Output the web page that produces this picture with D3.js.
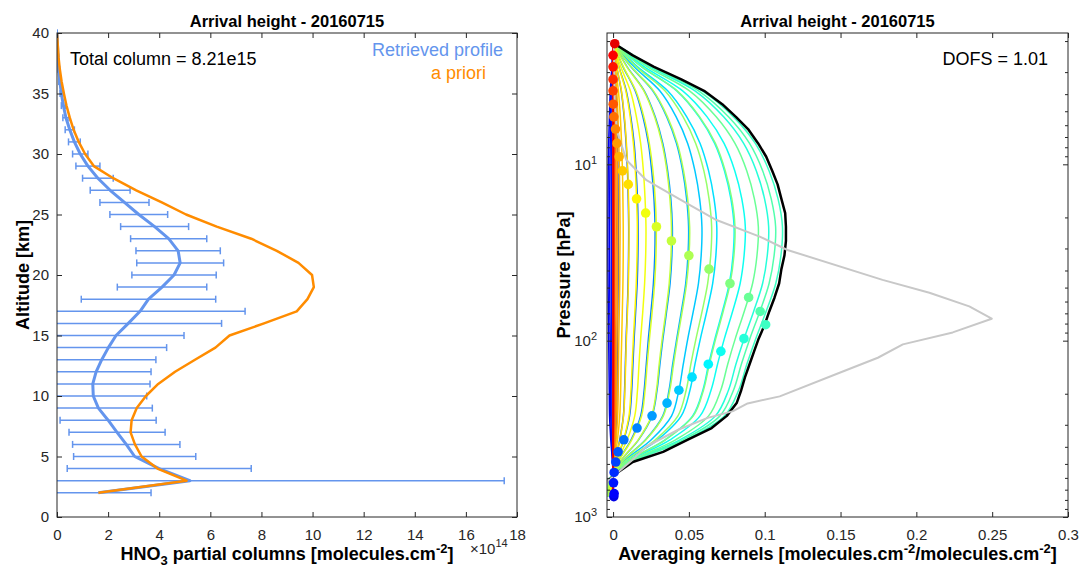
<!DOCTYPE html>
<html>
<head>
<meta charset="utf-8">
<script src="https://cdn.jsdelivr.net/npm/d3@7"></script>
<style>
  html, body { margin: 0; padding: 0; background: #fff; }
  svg { display: block; font-family: "Liberation Sans", Arial, Helvetica, sans-serif; }
</style>
</head>
<body>
<svg id="chart" width="1082" height="574"></svg>
<script>
// ---------------- Left panel: HNO3 partial column profile ----------------
const altitudes = [2, 3, 4, 5, 6, 7, 8, 9, 10, 11, 12, 13, 14, 15, 16, 17, 18, 19, 20, 21,
                   22, 23, 24, 25, 26, 27, 28, 29, 30, 31, 32, 33, 34, 35, 36, 37, 38, 39, 40];
// partial columns, units of 1e14 molecules/cm2
const retrieved = [1.62, 5.2, 4.0, 3.04, 2.71, 2.35, 2.0, 1.62, 1.42, 1.40, 1.53, 1.75, 2.01, 2.31, 2.79, 3.25,
                   3.58, 4.11, 4.58, 4.82, 4.74, 4.37, 3.82, 3.2, 2.64, 2.08, 1.6, 1.21, 0.91, 0.68,
                   0.5, 0.35, 0.25, 0.17, 0.11, 0.07, 0.04, 0.02, 0.005];
const retrievedErr = [2.06, 12.3, 3.6, 2.39, 2.1, 1.88, 1.88, 2.11, 2.09, 2.24, 2.15, 2.12, 2.28, 2.66, 3.65, 4.11,
                      2.63, 1.75, 1.65, 1.70, 1.65, 1.49, 1.33, 1.13, 0.96, 0.78, 0.6, 0.47, 0.3, 0.23,
                      0.18, 0.12, 0.08, 0.05, 0.04, 0.03, 0.02, 0.01, 0.005];
const apriori = [1.62, 5.07, 3.93, 3.31, 3.05, 2.88, 2.92, 3.12, 3.48, 3.96, 4.62, 5.4, 6.2, 6.75, 8.1, 9.38,
                 9.8, 10.05, 9.98, 9.45, 8.6, 7.6, 6.25, 5.05, 4.1, 3.1, 2.2, 1.44, 1.1, 0.85,
                 0.65, 0.5, 0.37, 0.27, 0.18, 0.11, 0.06, 0.03, 0.0];
const xTicksLeft = [0, 2, 4, 6, 8, 10, 12, 14, 16, 18];
const yTicksLeft = [0, 5, 10, 15, 20, 25, 30, 35, 40];

// ---------------- Right panel: averaging kernels ----------------
// layer pressures (hPa), bottom to top
const layerP = [766, 736, 640, 559, 488, 427, 365, 313, 267, 226, 191, 161, 136, 115, 97.4, 81.2, 68.3, 56.9,
                47.4, 39.3, 32.9, 27.2, 22.6, 18.9, 15.7, 13.0, 10.9, 9.06, 7.61, 6.31, 5.38, 4.56, 3.83,
                3.30, 2.80, 2.41, 2.07];
// diagonal kernel elements (one dot per layer)
const kernelDiag = [0.0005, 0.0007, 0.0003, 0.0007, 0.0018, 0.0033, 0.0071, 0.0158, 0.0257, 0.0356, 0.0434,
                    0.0521, 0.0628, 0.0711, 0.0863, 0.1006, 0.0970, 0.0894, 0.0771, 0.0633, 0.0500, 0.0385,
                    0.0286, 0.0215, 0.0155, 0.0100, 0.0062, 0.0040, 0.0026, 0.0016, 0.0005, 0.0001, 0.0,
                    0.0, 0.0, 0.0, 0.0011];
// total column kernel (black), on layerP
const columnKernel = [-0.008, -0.007, -0.005, 0.003, 0.013, 0.033, 0.049, 0.065, 0.075, 0.0815, 0.0845, 0.087,
                      0.090, 0.093, 0.096, 0.100, 0.103, 0.1065, 0.1095, 0.111, 0.113, 0.114, 0.114, 0.1135,
                      0.111, 0.1085, 0.105, 0.101, 0.0957, 0.089, 0.081, 0.072, 0.060, 0.045, 0.027, 0.013,
                      0.001];
// pressure grid for the kernel rows, bottom to top
const rowP = [766, 640, 488, 365, 267, 191, 136, 97.4, 68.3, 47.4, 32.9, 22.6, 15.7, 10.9, 7.61, 5.38, 3.83, 2.80, 2.07];
// one row per layer, bottom layer first
const kernelRows = [
  [0.0002, 0.0002, -0.0004, -0.0015, -0.0023, -0.0025, -0.0027, -0.0029, -0.0031, -0.0033, -0.0034, -0.0034, -0.0033, -0.0032, -0.0029, -0.0024, -0.0018, -0.0008, 0.0],
  [0.0002, 0.0001, -0.0003, -0.0010, -0.0015, -0.0017, -0.0018, -0.0019, -0.0021, -0.0022, -0.0023, -0.0023, -0.0022, -0.0021, -0.0019, -0.0016, -0.0012, -0.0005, 0.0],
  [0.0001, 0.0001, -0.0001, -0.0005, -0.0008, -0.0008, -0.0009, -0.0010, -0.0010, -0.0011, -0.0011, -0.0011, -0.0011, -0.0011, -0.0010, -0.0008, -0.0006, -0.0003, 0.0],
  [0.0, 0.0, 0.0001, 0.0002, 0.0004, 0.0004, 0.0005, 0.0005, 0.0005, 0.0005, 0.0006, 0.0006, 0.0006, 0.0005, 0.0005, 0.0004, 0.0003, 0.0001, 0.0],
  [-0.0002, -0.0002, 0.0004, 0.0015, 0.0023, 0.0025, 0.0027, 0.0029, 0.0031, 0.0033, 0.0034, 0.0034, 0.0033, 0.0032, 0.0029, 0.0024, 0.0018, 0.0008, 0.0],
  [-0.0007, -0.0005, 0.0012, 0.0044, 0.0068, 0.0076, 0.0081, 0.0086, 0.0093, 0.0099, 0.0102, 0.0103, 0.0100, 0.0095, 0.0086, 0.0073, 0.0054, 0.0024, 0.0001],
  [-0.0012, -0.0007, 0.0019, 0.0071, 0.0109, 0.0123, 0.0131, 0.0139, 0.0149, 0.0159, 0.0164, 0.0165, 0.0161, 0.0152, 0.0139, 0.0117, 0.0087, 0.0039, 0.0001],
  [-0.0019, -0.0012, 0.0032, 0.0119, 0.0182, 0.0205, 0.0219, 0.0233, 0.0250, 0.0266, 0.0275, 0.0277, 0.0270, 0.0255, 0.0233, 0.0197, 0.0146, 0.0066, 0.0002],
  [-0.0027, -0.0017, 0.0045, 0.0168, 0.0257, 0.0290, 0.0309, 0.0329, 0.0353, 0.0376, 0.0388, 0.0391, 0.0381, 0.0360, 0.0328, 0.0278, 0.0206, 0.0093, 0.0003],
  [-0.0035, -0.0022, 0.0057, 0.0214, 0.0328, 0.0369, 0.0393, 0.0420, 0.0450, 0.0479, 0.0494, 0.0498, 0.0485, 0.0459, 0.0418, 0.0354, 0.0262, 0.0118, 0.0004],
  [-0.0041, -0.0026, 0.0067, 0.0252, 0.0386, 0.0434, 0.0463, 0.0493, 0.0529, 0.0563, 0.0581, 0.0586, 0.0571, 0.0540, 0.0492, 0.0416, 0.0308, 0.0139, 0.0005],
  [-0.0048, -0.0030, 0.0078, 0.0294, 0.0450, 0.0507, 0.0540, 0.0576, 0.0618, 0.0657, 0.0678, 0.0684, 0.0666, 0.0630, 0.0574, 0.0486, 0.0360, 0.0162, 0.0006],
  [-0.0056, -0.0035, 0.0091, 0.0343, 0.0525, 0.0592, 0.0630, 0.0672, 0.0721, 0.0767, 0.0791, 0.0798, 0.0777, 0.0735, 0.0670, 0.0567, 0.0420, 0.0189, 0.0007],
  [-0.0061, -0.0038, 0.0099, 0.0375, 0.0574, 0.0646, 0.0689, 0.0734, 0.0788, 0.0838, 0.0864, 0.0872, 0.0849, 0.0803, 0.0732, 0.0620, 0.0459, 0.0207, 0.0008],
  [-0.0072, -0.0045, 0.0117, 0.0441, 0.0675, 0.0761, 0.0810, 0.0864, 0.0927, 0.0986, 0.1017, 0.1026, 0.0999, 0.0945, 0.0861, 0.0729, 0.0540, 0.0243, 0.0009],
  [-0.0078, -0.0049, 0.0127, 0.0480, 0.0735, 0.0828, 0.0882, 0.0941, 0.1009, 0.1073, 0.1107, 0.1117, 0.1088, 0.1029, 0.0938, 0.0794, 0.0588, 0.0265, 0.0010],
  [-0.0075, -0.0047, 0.0122, 0.0461, 0.0705, 0.0794, 0.0846, 0.0902, 0.0968, 0.1029, 0.1062, 0.1072, 0.1043, 0.0987, 0.0900, 0.0761, 0.0564, 0.0254, 0.0009],
  [-0.0067, -0.0042, 0.0109, 0.0412, 0.0630, 0.0710, 0.0756, 0.0806, 0.0865, 0.0920, 0.0949, 0.0958, 0.0932, 0.0882, 0.0804, 0.0680, 0.0504, 0.0227, 0.0008],
  [-0.0056, -0.0035, 0.0092, 0.0345, 0.0529, 0.0596, 0.0635, 0.0677, 0.0726, 0.0772, 0.0797, 0.0804, 0.0783, 0.0740, 0.0675, 0.0571, 0.0423, 0.0190, 0.0007],
  [-0.0046, -0.0029, 0.0074, 0.0279, 0.0428, 0.0482, 0.0513, 0.0547, 0.0587, 0.0624, 0.0644, 0.0650, 0.0633, 0.0599, 0.0545, 0.0462, 0.0342, 0.0154, 0.0006],
  [-0.0035, -0.0022, 0.0058, 0.0217, 0.0332, 0.0374, 0.0399, 0.0425, 0.0456, 0.0485, 0.0501, 0.0505, 0.0492, 0.0465, 0.0424, 0.0359, 0.0266, 0.0120, 0.0004],
  [-0.0027, -0.0017, 0.0044, 0.0166, 0.0254, 0.0286, 0.0304, 0.0324, 0.0348, 0.0370, 0.0382, 0.0385, 0.0375, 0.0355, 0.0323, 0.0274, 0.0203, 0.0091, 0.0003],
  [-0.0020, -0.0013, 0.0033, 0.0123, 0.0188, 0.0211, 0.0225, 0.0240, 0.0258, 0.0274, 0.0283, 0.0285, 0.0278, 0.0263, 0.0239, 0.0203, 0.0150, 0.0068, 0.0003],
  [-0.0015, -0.0010, 0.0025, 0.0093, 0.0143, 0.0161, 0.0171, 0.0182, 0.0196, 0.0208, 0.0215, 0.0217, 0.0211, 0.0200, 0.0182, 0.0154, 0.0114, 0.0051, 0.0002],
  [-0.0011, -0.0007, 0.0018, 0.0069, 0.0105, 0.0118, 0.0126, 0.0134, 0.0144, 0.0153, 0.0158, 0.0160, 0.0155, 0.0147, 0.0134, 0.0113, 0.0084, 0.0038, 0.0001],
  [-0.0007, -0.0005, 0.0012, 0.0045, 0.0069, 0.0078, 0.0083, 0.0088, 0.0095, 0.0101, 0.0104, 0.0105, 0.0102, 0.0097, 0.0088, 0.0075, 0.0055, 0.0025, 0.0001],
  [-0.0005, -0.0003, 0.0008, 0.0029, 0.0044, 0.0050, 0.0053, 0.0057, 0.0061, 0.0065, 0.0067, 0.0067, 0.0065, 0.0062, 0.0056, 0.0048, 0.0035, 0.0016, 0.0001],
  [-0.0003, -0.0002, 0.0005, 0.0020, 0.0030, 0.0034, 0.0036, 0.0038, 0.0041, 0.0044, 0.0045, 0.0046, 0.0044, 0.0042, 0.0038, 0.0032, 0.0024, 0.0011, 0.0],
  [-0.0002, -0.0001, 0.0004, 0.0013, 0.0020, 0.0023, 0.0024, 0.0026, 0.0028, 0.0030, 0.0031, 0.0031, 0.0030, 0.0028, 0.0026, 0.0022, 0.0016, 0.0007, 0.0],
  [-0.0001, -0.0001, 0.0002, 0.0009, 0.0014, 0.0015, 0.0016, 0.0017, 0.0019, 0.0020, 0.0020, 0.0021, 0.0020, 0.0019, 0.0017, 0.0015, 0.0011, 0.0005, 0.0],
  [-0.0001, 0.0, 0.0001, 0.0005, 0.0008, 0.0008, 0.0009, 0.0010, 0.0010, 0.0011, 0.0011, 0.0011, 0.0011, 0.0011, 0.0010, 0.0008, 0.0006, 0.0003, 0.0],
  [0.0, 0.0, 0.0001, 0.0003, 0.0005, 0.0005, 0.0005, 0.0006, 0.0006, 0.0007, 0.0007, 0.0007, 0.0007, 0.0006, 0.0006, 0.0005, 0.0004, 0.0002, 0.0],
  [0.0, 0.0, 0.0001, 0.0002, 0.0003, 0.0003, 0.0004, 0.0004, 0.0004, 0.0004, 0.0005, 0.0005, 0.0004, 0.0004, 0.0004, 0.0003, 0.0002, 0.0001, 0.0],
  [0.0, 0.0, 0.0, 0.0001, 0.0002, 0.0003, 0.0003, 0.0003, 0.0003, 0.0003, 0.0003, 0.0003, 0.0003, 0.0003, 0.0003, 0.0002, 0.0002, 0.0001, 0.0],
  [0.0, 0.0, 0.0, 0.0001, 0.0002, 0.0002, 0.0002, 0.0002, 0.0002, 0.0002, 0.0002, 0.0002, 0.0002, 0.0002, 0.0002, 0.0002, 0.0001, 0.0001, 0.0],
  [0.0, 0.0, 0.0, 0.0, 0.0001, 0.0001, 0.0001, 0.0001, 0.0001, 0.0001, 0.0001, 0.0001, 0.0001, 0.0001, 0.0001, 0.0001, 0.0001, 0.0, 0.0],
  [0.0, 0.0, 0.0, 0.0, 0.0, 0.0, 0.0, 0.0, 0.0, 0.0, 0.0, 0.0, 0.0, 0.0, 0.0, 0.0, 0.0, 0.0, 0.0]
];
// grey reference profile (pressure, value), top to bottom
const greyP = [2.06, 4.33, 6.40, 9.46, 12.3, 16.6, 20.7, 25.7, 30.6, 45.2, 53.5, 63.9, 75.1, 89.8, 105, 125,
               152, 207, 227, 251, 274, 319, 397, 482, 549, 626, 697];
const greyV = [0.0005, 0.001, 0.0024, 0.0088, 0.022, 0.0484, 0.0682, 0.0967, 0.115, 0.1777, 0.2086, 0.2349,
               0.2497, 0.224, 0.1911, 0.1746, 0.1494, 0.1099, 0.0887, 0.0791, 0.0624, 0.0433, 0.0222,
               0.0119, 0.0042, -0.0035, -0.005];
const xTicksRight = [0, 0.05, 0.1, 0.15, 0.2, 0.25, 0.3];
const xTickLabelsRight = ["0", "0.05", "0.1", "0.15", "0.2", "0.25", "0.3"];
const yMajorRight = [10, 100, 1000];
const yMinorRight = [2, 3, 4, 5, 6, 7, 8, 9, 20, 30, 40, 50, 60, 70, 80, 90, 200, 300, 400, 500, 600, 700, 800, 900];

// ---------------- drawing ----------------
const INK = "#262626";
const BLUE = "#6495ed";
const ORANGE = "#ff8c00";
const FONT = "'Liberation Sans', Arial, Helvetica, sans-serif";
const LABEL_SIZE = 18;
const svg = d3.select("#chart");
const defs = svg.append("defs");

// jet colormap
function jet(t) {
  const c = v => Math.max(0, Math.min(1, v));
  return d3.rgb(255 * c(1.5 - Math.abs(4 * t - 3)),
                255 * c(1.5 - Math.abs(4 * t - 2)),
                255 * c(1.5 - Math.abs(4 * t - 1))).formatHex();
}
const layerColor = d3.scaleLinear().domain([0, layerP.length - 1]).range([0.1, 0.9]);

function styleAxis(g, showText) {
  g.attr("font-family", FONT).attr("font-size", 15);
  g.select(".domain").remove();
  g.selectAll(".tick line").attr("stroke", INK).attr("stroke-width", 1);
  g.selectAll(".tick text").attr("fill", INK);
  if (!showText) g.selectAll(".tick text").remove();
}

function boxAxes(g, x, y, box, xTicks, yTicks, tickLen) {
  g.append("g").attr("transform", `translate(0,${box.y1})`)
    .call(d3.axisBottom(x).tickValues(xTicks).tickSizeInner(-tickLen).tickSizeOuter(0).tickFormat(""))
    .call(a => styleAxis(a, false));
  g.append("g").attr("transform", `translate(0,${box.y0})`)
    .call(d3.axisTop(x).tickValues(xTicks).tickSizeInner(-tickLen).tickSizeOuter(0).tickFormat(""))
    .call(a => styleAxis(a, false));
  g.append("g").attr("transform", `translate(${box.x0},0)`)
    .call(d3.axisLeft(y).tickValues(yTicks).tickSizeInner(-tickLen).tickSizeOuter(0).tickFormat(""))
    .call(a => styleAxis(a, false));
  g.append("g").attr("transform", `translate(${box.x1},0)`)
    .call(d3.axisRight(y).tickValues(yTicks).tickSizeInner(-tickLen).tickSizeOuter(0).tickFormat(""))
    .call(a => styleAxis(a, false));
}

// ===== Left panel =====
const L = { x0: 57, x1: 517, y0: 33, y1: 517 };
const xL = d3.scaleLinear().domain([0, 18]).range([L.x0, L.x1]);
const yL = d3.scaleLinear().domain([0, 40]).range([L.y1, L.y0]);
defs.append("clipPath").attr("id", "clipL").append("rect")
  .attr("x", L.x0).attr("y", 0).attr("width", L.x1 - L.x0).attr("height", 574);

const gL = svg.append("g");
const plotL = gL.append("g").attr("clip-path", "url(#clipL)");

const profile = altitudes.map((a, i) => ({ a, v: retrieved[i], e: retrievedErr[i], ap: apriori[i] }));

// error bars
const eb = plotL.append("g").attr("stroke", BLUE).attr("stroke-width", 1.5).attr("fill", "none");
eb.selectAll("line.bar").data(profile).join("line").attr("class", "bar")
  .attr("x1", d => xL(d.v - d.e)).attr("x2", d => xL(d.v + d.e))
  .attr("y1", d => yL(d.a)).attr("y2", d => yL(d.a));
eb.selectAll("line.capl").data(profile).join("line").attr("class", "capl")
  .attr("x1", d => xL(d.v - d.e)).attr("x2", d => xL(d.v - d.e))
  .attr("y1", d => yL(d.a) - 3.5).attr("y2", d => yL(d.a) + 3.5);
eb.selectAll("line.capr").data(profile).join("line").attr("class", "capr")
  .attr("x1", d => xL(d.v + d.e)).attr("x2", d => xL(d.v + d.e))
  .attr("y1", d => yL(d.a) - 3.5).attr("y2", d => yL(d.a) + 3.5);

plotL.append("path").datum(profile)
  .attr("fill", "none").attr("stroke", BLUE).attr("stroke-width", 3).attr("stroke-linejoin", "round")
  .attr("d", d3.line().x(d => xL(d.v)).y(d => yL(d.a)));
plotL.append("path").datum(profile)
  .attr("fill", "none").attr("stroke", ORANGE).attr("stroke-width", 2.5).attr("stroke-linejoin", "round")
  .attr("d", d3.line().x(d => xL(d.ap)).y(d => yL(d.a)));

gL.append("rect").attr("x", L.x0).attr("y", L.y0).attr("width", L.x1 - L.x0).attr("height", L.y1 - L.y0)
  .attr("fill", "none").attr("stroke", INK).attr("stroke-width", 1);
boxAxes(gL, xL, yL, L, xTicksLeft, yTicksLeft, 5);

gL.append("g").attr("transform", `translate(0,${L.y1})`)
  .call(d3.axisBottom(xL).tickValues(xTicksLeft).tickSize(0).tickPadding(12))
  .call(a => styleAxis(a, true));
gL.append("g").attr("transform", `translate(${L.x0},0)`)
  .call(d3.axisLeft(yL).tickValues(yTicksLeft).tickSize(0).tickPadding(8))
  .call(a => styleAxis(a, true));

// exponent marker for the x axis
const expL = gL.append("text").attr("x", 470).attr("y", 554)
  .attr("font-family", FONT).attr("font-size", 15).attr("fill", INK);
expL.append("tspan").text("\u00d710");
expL.append("tspan").attr("dy", -7).attr("font-size", 11).text("14");

gL.append("text").attr("x", (L.x0 + L.x1) / 2).attr("y", 27).attr("text-anchor", "middle")
  .attr("font-family", FONT).attr("font-size", 16.5).attr("font-weight", "bold").attr("fill", "#000")
  .text("Arrival height - 20160715");

gL.append("text").attr("x", 70).attr("y", 65).attr("font-family", FONT).attr("font-size", 18)
  .attr("fill", "#000").text("Total column = 8.21e15");
gL.append("text").attr("x", 503).attr("y", 56).attr("text-anchor", "end").attr("font-family", FONT)
  .attr("font-size", 18).attr("fill", BLUE).text("Retrieved profile");
gL.append("text").attr("x", 431).attr("y", 79).attr("font-family", FONT)
  .attr("font-size", 18).attr("fill", ORANGE).text("a priori");

const xlabL = gL.append("text").attr("x", (L.x0 + L.x1) / 2).attr("y", 560).attr("text-anchor", "middle")
  .attr("font-family", FONT).attr("font-size", LABEL_SIZE).attr("font-weight", "bold").attr("fill", "#000");
xlabL.append("tspan").text("HNO");
xlabL.append("tspan").attr("dy", 5).attr("font-size", 13).text("3");
xlabL.append("tspan").attr("dy", -5).text(" partial columns [molecules.cm");
xlabL.append("tspan").attr("dy", -7).attr("font-size", 13).text("-2");
xlabL.append("tspan").attr("dy", 7).text("]");

gL.append("text").attr("transform", `translate(29,${(L.y0 + L.y1) / 2}) rotate(-90)`)
  .attr("text-anchor", "middle").attr("font-family", FONT).attr("font-size", LABEL_SIZE)
  .attr("font-weight", "bold").attr("fill", "#000").text("Altitude [km]");

// ===== Right panel =====
const R = { x0: 607, x1: 1068, y0: 33, y1: 517 };
const xR = d3.scaleLinear().domain([-0.004, 0.3]).range([R.x0, R.x1]);
const yR = d3.scaleLog().domain([1.8, 1000]).range([R.y0, R.y1]);
defs.append("clipPath").attr("id", "clipR").append("rect")
  .attr("x", R.x0).attr("y", R.y0).attr("width", R.x1 - R.x0).attr("height", R.y1 - R.y0);

const gR = svg.append("g");
const plotR = gR.append("g").attr("clip-path", "url(#clipR)");

const rowLine = d3.line().x(d => xR(d.v)).y(d => yR(d.p)).curve(d3.curveCatmullRom.alpha(0.5));
plotR.append("g").selectAll("path").data(kernelRows).join("path")
  .attr("fill", "none").attr("stroke-width", 1.5)
  .attr("stroke", (row, i) => jet(layerColor(i)))
  .attr("d", row => rowLine(row.map((v, j) => ({ v, p: rowP[j] }))));

plotR.append("path").datum(columnKernel.map((v, j) => ({ v, p: layerP[j] })))
  .attr("fill", "none").attr("stroke", "#000").attr("stroke-width", 2.5).attr("stroke-linejoin", "round")
  .attr("d", d3.line().x(d => xR(d.v)).y(d => yR(d.p)));

plotR.append("path").datum(greyV.map((v, j) => ({ v, p: greyP[j] })))
  .attr("fill", "none").attr("stroke", "#c8c8c8").attr("stroke-width", 2).attr("stroke-linejoin", "round")
  .attr("d", d3.line().x(d => xR(d.v)).y(d => yR(d.p)));

plotR.append("g").selectAll("circle").data(kernelDiag).join("circle")
  .attr("cx", d => xR(d)).attr("cy", (d, i) => yR(layerP[i])).attr("r", 4.8)
  .attr("fill", (d, i) => jet(layerColor(i)));

gR.append("rect").attr("x", R.x0).attr("y", R.y0).attr("width", R.x1 - R.x0).attr("height", R.y1 - R.y0)
  .attr("fill", "none").attr("stroke", INK).attr("stroke-width", 1);
boxAxes(gR, xR, yR, R, xTicksRight, yMajorRight, 5);
// minor log ticks on both sides
gR.append("g").attr("transform", `translate(${R.x0},0)`)
  .call(d3.axisLeft(yR).tickValues(yMinorRight).tickSizeInner(-3).tickSizeOuter(0).tickFormat(""))
  .call(a => styleAxis(a, false));
gR.append("g").attr("transform", `translate(${R.x1},0)`)
  .call(d3.axisRight(yR).tickValues(yMinorRight).tickSizeInner(-3).tickSizeOuter(0).tickFormat(""))
  .call(a => styleAxis(a, false));

gR.append("g").attr("transform", `translate(0,${R.y1})`)
  .call(d3.axisBottom(xR).tickValues(xTicksRight).tickSize(0).tickPadding(12)
    .tickFormat((d, i) => xTickLabelsRight[i]))
  .call(a => styleAxis(a, true));
gR.append("g").attr("transform", `translate(${R.x0},0)`)
  .call(d3.axisLeft(yR).tickValues(yMajorRight).tickSize(0).tickPadding(10).tickFormat(""))
  .call(a => styleAxis(a, true))
  .call(a => a.selectAll(".tick text").each(function (d) {
    const t = d3.select(this);
    t.append("tspan").text("10");
    t.append("tspan").attr("dy", "-0.55em").attr("font-size", 11).text(Math.round(Math.log10(d)));
  }));

gR.append("text").attr("x", (R.x0 + R.x1) / 2).attr("y", 27).attr("text-anchor", "middle")
  .attr("font-family", FONT).attr("font-size", 16.5).attr("font-weight", "bold").attr("fill", "#000")
  .text("Arrival height - 20160715");
gR.append("text").attr("x", 1048).attr("y", 65).attr("text-anchor", "end").attr("font-family", FONT)
  .attr("font-size", 18).attr("fill", "#000").text("DOFS = 1.01");

const xlabR = gR.append("text").attr("x", (R.x0 + R.x1) / 2).attr("y", 560).attr("text-anchor", "middle")
  .attr("font-family", FONT).attr("font-size", LABEL_SIZE).attr("font-weight", "bold").attr("fill", "#000");
xlabR.append("tspan").text("Averaging kernels [molecules.cm");
xlabR.append("tspan").attr("dy", -7).attr("font-size", 13).text("-2");
xlabR.append("tspan").attr("dy", 7).text("/molecules.cm");
xlabR.append("tspan").attr("dy", -7).attr("font-size", 13).text("-2");
xlabR.append("tspan").attr("dy", 7).text("]");

gR.append("text").attr("transform", `translate(570,${(R.y0 + R.y1) / 2}) rotate(-90)`)
  .attr("text-anchor", "middle").attr("font-family", FONT).attr("font-size", LABEL_SIZE)
  .attr("font-weight", "bold").attr("fill", "#000").text("Pressure [hPa]");
</script>
</body>
</html>
